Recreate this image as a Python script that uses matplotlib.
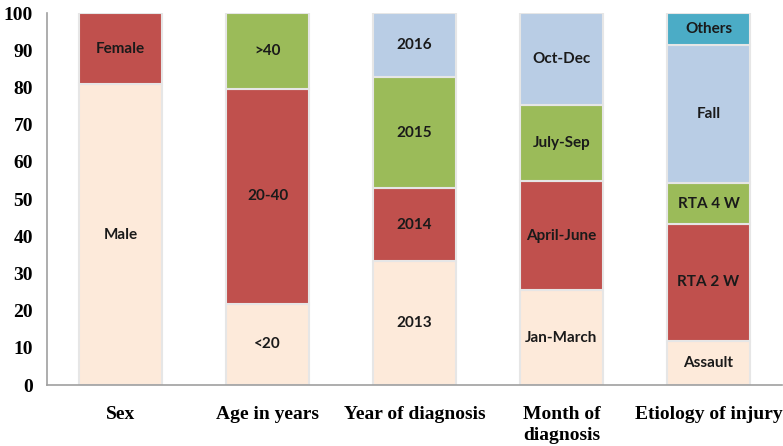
import matplotlib
matplotlib.use("Agg")
import matplotlib.pyplot as plt
import numpy as np

categories = ["Sex", "Age in years", "Year of diagnosis", "Month of\ndiagnosis", "Etiology of injury"]

# segments per category (bottom to top): labels, values (%)
seg_labels = [
    ["Male", "Female"],
    ["<20", "20-40", ">40"],
    ["2013", "2014", "2015", "2016"],
    ["Jan-March", "April-June", "July-Sep", "Oct-Dec"],
    ["Assault", "RTA 2 W", "RTA 4 W", "Fall", "Others"],
]
seg_values = [
    [80.8, 19.2],
    [21.8, 57.8, 20.4],
    [33.3, 19.6, 29.8, 17.3],
    [25.5, 29.3, 20.6, 24.6],
    [11.9, 31.4, 10.9, 37.2, 8.6],
]
yticks = [0, 10, 20, 30, 40, 50, 60, 70, 80, 90, 100]

palette = ["#FDEADA", "#C0504D", "#9BBB59", "#B9CDE5", "#4BACC6"]

fig = plt.figure(figsize=(7.83, 4.46), dpi=100)
ax = fig.add_axes([47/783, 1 - 385/446, 735/783, 372/446])

x = np.arange(len(categories))
width = 0.565
for i, (labs, vals) in enumerate(zip(seg_labels, seg_values)):
    bottom = 0.0
    for j, (lab, v) in enumerate(zip(labs, vals)):
        ax.bar(x[i], v, width=width, bottom=bottom, color=palette[j],
               edgecolor="#E6E6E6", linewidth=1.5, zorder=2)
        ax.text(x[i], bottom + v / 2, lab, ha="center", va="center",
                fontsize=11, fontweight="bold", family="Lato", color="#1a1a1a", zorder=3)
        bottom += v

ax.set_xlim(-0.5, len(categories) - 0.5)
ax.set_ylim(0, 100)
ax.set_yticks(yticks)
ax.set_yticklabels([str(t) for t in yticks], family="Liberation Serif",
                   fontweight="bold", fontsize=14)
ax.set_xticks(x)
ax.set_xticklabels(categories, family="Liberation Serif", fontweight="bold",
                   fontsize=14, va="top", linespacing=1.3)
ax.tick_params(axis="both", length=0)
ax.tick_params(axis="x", pad=15)
ax.tick_params(axis="y", pad=10)
for s in ["top", "right"]:
    ax.spines[s].set_visible(False)
ax.spines["left"].set_color("#A0A0A0")
ax.spines["bottom"].set_color("#A0A0A0")
ax.spines["left"].set_linewidth(1.2)
ax.spines["bottom"].set_linewidth(1.2)

fig.savefig("out.png", dpi=100)
